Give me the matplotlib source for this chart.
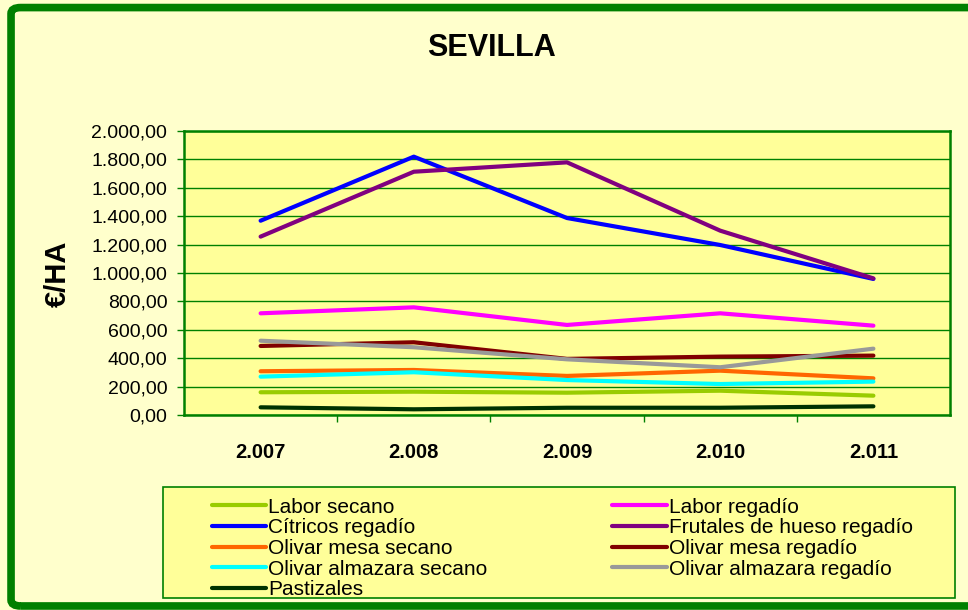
import numpy as np
import matplotlib
matplotlib.use("Agg")
import matplotlib.pyplot as plt
from matplotlib.ticker import FuncFormatter, FixedLocator
from matplotlib.patches import FancyBboxPatch, Rectangle

plt.rcParams['font.family'] = ['Liberation Sans', 'DejaVu Sans']

years = ['2.007', '2.008', '2.009', '2.010', '2.011']

labor_secano = [160, 164, 157, 171, 136]
labor_regadio = [716, 758, 634, 716, 629]
citricos_regadio = [1368, 1819, 1387, 1197, 958]
frutales_hueso_regadio = [1256, 1713, 1779, 1298, 962]
olivar_mesa_secano = [308, 317, 275, 312, 258]
olivar_mesa_regadio = [486, 512, 395, 411, 418]
olivar_almazara_secano = [270, 301, 246, 218, 235]
olivar_almazara_regadio = [523, 477, 392, 336, 467]
pastizales = [54, 40, 51, 51, 61]

series = [
    ('Labor secano', labor_secano, '#99CC00'),
    ('Labor regadío', labor_regadio, '#FF00FF'),
    ('Cítricos regadío', citricos_regadio, '#0000FF'),
    ('Frutales de hueso regadío', frutales_hueso_regadio, '#800080'),
    ('Olivar mesa secano', olivar_mesa_secano, '#FF6600'),
    ('Olivar mesa regadío', olivar_mesa_regadio, '#800000'),
    ('Olivar almazara secano', olivar_almazara_secano, '#00FFFF'),
    ('Olivar almazara regadío', olivar_almazara_regadio, '#999999'),
    ('Pastizales', pastizales, '#003300'),
]

green = '#008000'

fig = plt.figure(figsize=(9.68, 6.1), dpi=100, facecolor='#FFFFCC')

# outer rounded green frame (right side runs off the picture)
fig.patches.append(FancyBboxPatch((0.0114, 0.0066), 1.03, 0.981,
                                  boxstyle='round,pad=0,rounding_size=0.01',
                                  transform=fig.transFigure, facecolor='none',
                                  edgecolor=green, linewidth=5.5, zorder=0))

ax = fig.add_axes([0.1901, 0.3197, 0.7913, 0.4656])
ax.set_facecolor('#FFFF99')

x = np.arange(len(years))
lines = {}
for name, vals, col in series:
    ln, = ax.plot(x, vals, color=col, linewidth=3, solid_capstyle='round',
                  solid_joinstyle='round', label=name)
    lines[name] = ln

ax.set_xlim(-0.5, len(years) - 0.5)
ax.set_ylim(0, 2000)
ax.set_yticks(np.arange(0, 2001, 200))
ax.yaxis.set_major_formatter(FuncFormatter(
    lambda v, p: f"{v:,.2f}".replace(',', 'X').replace('.', ',').replace('X', '.')))
ax.grid(axis='y', color=green, linewidth=1)
ax.set_axisbelow(True)

ax.set_xticks(x)
ax.set_xticklabels(years, fontweight='bold', fontsize=14.5)
ax.xaxis.set_minor_locator(FixedLocator(np.arange(0.5, len(years) - 0.5, 1.0)))
ax.tick_params(axis='x', which='major', length=0, pad=20)
ax.tick_params(axis='x', which='minor', length=5, color=green, width=1)
ax.tick_params(axis='y', length=5, color=green, width=1, labelsize=14, pad=7)

for s in ax.spines.values():
    s.set_color(green)
    s.set_linewidth(1.8)

fig.text(0.508, 0.921, 'SEVILLA', fontsize=22, fontweight='bold',
         ha='center', va='center')
fig.text(0.06, 0.551, '€/HA', fontsize=21, fontweight='bold',
         rotation=90, ha='center', va='center')

# legend frame
fig.patches.append(Rectangle((0.1684, 0.0197), 0.818, 0.182,
                             transform=fig.transFigure, facecolor='#FFFF99',
                             edgecolor=green, linewidth=1.2, zorder=1))

order = ['Labor secano', 'Cítricos regadío', 'Olivar mesa secano',
         'Olivar almazara secano', 'Pastizales',
         'Labor regadío', 'Frutales de hueso regadío', 'Olivar mesa regadío',
         'Olivar almazara regadío']
leg = fig.legend([lines[n] for n in order], order, ncol=2, loc='upper left',
                 bbox_to_anchor=(0.219, 0.184), frameon=False, fontsize=15,
                 handlelength=2.6, handletextpad=0.1, labelspacing=0.08,
                 columnspacing=6.0, borderpad=0, borderaxespad=0)

fig.savefig('out.png', dpi=100, facecolor=fig.get_facecolor())
